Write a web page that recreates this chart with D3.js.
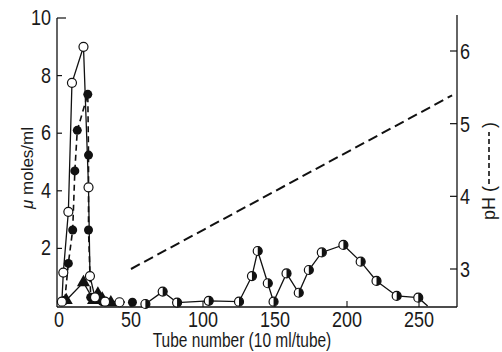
<!DOCTYPE html>
<html><head><meta charset="utf-8">
<script src="https://cdn.jsdelivr.net/npm/d3@7"></script>
<style>
body{margin:0;background:#fff;}
text{font-family:"Liberation Sans",Arial,sans-serif;fill:#1a1a1a;}
</style></head>
<body><svg id="c" width="502" height="352"></svg>
<script>
// ---- data (tube number, value) ----
const xTicks = [0, 50, 100, 150, 200, 250];
const yTicks = [2, 4, 6, 8, 10];
const phTicks = [3, 4, 5, 6];
const openCircles = [[2,0.15],[3,1.16],[6.5,3.27],[9,7.75],[17,9.0],[20.5,4.12],[21.5,1.04],[25,0.3],[32,0.15],[42,0.13]];
const filledCircles = [[4,0.2],[6.5,1.48],[9.5,2.64],[11,4.69],[12.7,6.1],[20,7.35],[20.5,5.24],[20.5,2.64],[22,0.3],[30,0.15],[51,0.13]];
const triangles = [[5,0.2],[17,0.82],[24,0.2],[27,0.42],[30,0.25],[36,0.12]];
const halfCircles = [[60,0.07],[72,0.5],[82,0.12],[104,0.18],[125,0.15],[134,1.04],[138,1.91],[145,0.79],[149,0.15],[158,1.13],[166.5,0.46],[173.5,1.25],[182.5,1.86],[197.5,2.12],[209.5,1.54],[220.5,0.87],[234.5,0.35],[249.5,0.29],[256,0]];
const phLine = [[50,3.0],[273,5.39]];

const svg = d3.select("#c");
const x = d3.scaleLinear().domain([0,250]).range([59,419]);
const y = d3.scaleLinear().domain([0,10]).range([306,18]);
const yp = d3.scaleLinear().domain([3,6]).range([269,51]);
const X0 = 57, X1 = 457, Yb = 307;

// frame
svg.append("line").attr("x1",X0).attr("x2",X0).attr("y1",y(10)).attr("y2",Yb).attr("stroke","#111").attr("stroke-width",1.3);
svg.append("line").attr("x1",X0).attr("x2",X1).attr("y1",Yb).attr("y2",Yb).attr("stroke","#111").attr("stroke-width",1.3);
svg.append("line").attr("x1",X1).attr("x2",X1).attr("y1",15).attr("y2",Yb).attr("stroke","#111").attr("stroke-width",1.3);

// left axis ticks (inward)
yTicks.forEach(t=>{
  svg.append("line").attr("x1",X0).attr("x2",X0+(t===10?9:5)).attr("y1",y(t)).attr("y2",y(t)).attr("stroke","#111").attr("stroke-width",1.2);
  svg.append("text").attr("text-anchor","end").attr("font-size",18)
    .attr("transform",`translate(51,${y(t)+7}) scale(1,1.18)`).text(t);
});
// right axis ticks (inward)
phTicks.forEach(t=>{
  svg.append("line").attr("x1",X1-7).attr("x2",X1).attr("y1",yp(t)).attr("y2",yp(t)).attr("stroke","#111").attr("stroke-width",1.2);
  svg.append("text").attr("text-anchor","start").attr("font-size",18)
    .attr("transform",`translate(460,${yp(t)+8}) scale(1,1.18)`).text(t);
});
// bottom ticks
xTicks.forEach(t=>{
  if(t>0) svg.append("line").attr("x1",x(t)).attr("x2",x(t)).attr("y1",Yb).attr("y2",Yb-6).attr("stroke","#111").attr("stroke-width",1.1);
  svg.append("text").attr("text-anchor","middle").attr("font-size",18)
    .attr("transform",`translate(${x(t)},327) scale(1,1.18)`).text(t);
});

// axis titles
svg.append("text").attr("text-anchor","middle").attr("font-size",15.5)
  .attr("transform","translate(242,347) scale(1,1.3)").text("Tube number (10 ml/tube)");
const yl = svg.append("text").attr("text-anchor","middle").attr("font-size",17)
  .attr("transform","translate(33,168) rotate(-90)");
yl.append("tspan").attr("font-style","italic").text("μ");
yl.append("tspan").text(" moles/ml");
// right title: pH ( - - - )
const rg = svg.append("g").attr("transform","translate(495,170) rotate(-90)");
rg.append("text").attr("x",-50).attr("font-size",18).text("pH");
rg.append("text").attr("x",-22).attr("font-size",18).text("(");
rg.append("line").attr("x1",-14).attr("x2",38).attr("y1",-6).attr("y2",-6).attr("stroke","#111").attr("stroke-width",1.6).attr("stroke-dasharray","5,3");
rg.append("text").attr("x",42).attr("font-size",18).text(")");

const line = d3.line().x(d=>x(d[0])).y(d=>y(d[1]));

// pH line
svg.append("path").attr("d", d3.line().x(d=>x(d[0])).y(d=>yp(d[1]))(phLine))
  .attr("fill","none").attr("stroke","#111").attr("stroke-width",2).attr("stroke-dasharray","10,5");

// series lines
svg.append("path").attr("d",line(halfCircles)).attr("fill","none").attr("stroke","#111").attr("stroke-width",1.3);
svg.append("path").attr("d",line(triangles)).attr("fill","none").attr("stroke","#111").attr("stroke-width",1.3);
svg.append("path").attr("d",line(openCircles)).attr("fill","none").attr("stroke","#111").attr("stroke-width",1.3);
svg.append("path").attr("d",line(filledCircles)).attr("fill","none").attr("stroke","#111").attr("stroke-width",1.6).attr("stroke-dasharray","6,4");

const R = 4.5;
// half-filled markers
halfCircles.filter(d=>d[1]>0).forEach(d=>{
  const cx=x(d[0]), cy=y(d[1]);
  svg.append("circle").attr("cx",cx).attr("cy",cy).attr("r",R).attr("fill","#fff").attr("stroke","#111").attr("stroke-width",1.2);
  svg.append("path").attr("d",`M${cx},${cy-R}A${R},${R} 0 0 1 ${cx},${cy+R}Z`).attr("fill","#111");
});
// triangles
svg.selectAll(".tri").data(triangles).enter().append("path")
  .attr("d",d3.symbol().type(d3.symbolTriangle).size(75))
  .attr("transform",d=>`translate(${x(d[0])},${y(d[1])})`).attr("fill","#111");
// filled circles
svg.selectAll(".fc").data(filledCircles).enter().append("circle")
  .attr("cx",d=>x(d[0])).attr("cy",d=>y(d[1])).attr("r",R).attr("fill","#111");
// open circles
svg.selectAll(".oc").data(openCircles).enter().append("circle")
  .attr("cx",d=>x(d[0])).attr("cy",d=>y(d[1])).attr("r",R).attr("fill","#fff").attr("stroke","#111").attr("stroke-width",1.2);
</script></body></html>
